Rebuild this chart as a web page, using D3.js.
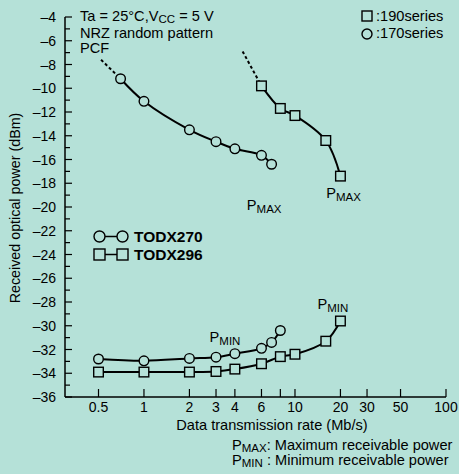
<!DOCTYPE html>
<html>
<head>
<meta charset="utf-8">
<script src="https://cdn.jsdelivr.net/npm/d3@7"></script>
<style>
  body { margin: 0; background: #b5e1d8; }
  svg { display: block; font-family: Arial, "Liberation Sans", sans-serif; }
  .curve { fill: none; stroke: #000; stroke-width: 2; }
  .mark { fill: #b5e1d8; stroke: #000; stroke-width: 1.4; }
</style>
</head>
<body>
<svg></svg>
<script>
  // data
  var xTicks = [0.5, 1, 2, 3, 4, 6, 8, 10, 20, 30, 50, 100];
  var xLabels = ['0.5', '1', '2', '3', '4', '6', '', '10', '20', '30', '50', '100'];
  var yTicks = d3.range(-4, -37, -1);

  var rate270Max = [0.7, 1, 2, 3, 4, 6, 7];
  var pmax270 = [-9.2, -11.1, -13.5, -14.5, -15.1, -15.65, -16.4];
  var rate270Min = [0.5, 1, 2, 3, 4, 6, 7, 8];
  var pmin270 = [-32.8, -32.95, -32.75, -32.65, -32.35, -31.9, -31.4, -30.4];

  var rate296Max = [6, 8, 10, 16, 20];
  var pmax296 = [-9.8, -11.7, -12.3, -14.4, -17.4];
  var rate296Min = [0.5, 1, 2, 3, 4, 6, 8, 10, 16, 20];
  var pmin296 = [-33.9, -33.9, -33.9, -33.85, -33.65, -33.2, -32.6, -32.4, -31.3, -29.6];

  // dotted extrapolation above the first measured point
  var ext270Rate = [0.52, 0.7];
  var ext270P = [-7.6, -9.2];
  var ext296Rate = [4.5, 6];
  var ext296P = [-6.9, -9.8];

  var width = 459;
  var height = 474;
  var fs = 14.6;

  var svg = d3.select('svg')
    .attr('width', width)
    .attr('height', height);

  var x = d3.scaleLog().domain([0.3, 100]).range([65, 446]);
  var y = d3.scaleLinear().domain([-4, -36]).range([17, 397]);

  var zip = function (xs, ys) {
    return xs.map(function (v, i) { return [v, ys[i]]; });
  };

  // axes
  var yAxis = svg.append('g').attr('transform', 'translate(65,0)');
  yAxis.append('line').attr('x1', 0).attr('x2', 0).attr('y1', y(-4)).attr('y2', y(-36))
    .attr('stroke', '#000').attr('stroke-width', 1.5);
  yAxis.selectAll('.tk').data(yTicks).enter().append('line')
    .attr('x1', 0)
    .attr('x2', function (d) { return d % 2 === 0 ? 7 : 5; })
    .attr('y1', function (d) { return y(d); })
    .attr('y2', function (d) { return y(d); })
    .attr('stroke', '#000').attr('stroke-width', 1.2);
  yAxis.selectAll('text').data(yTicks.filter(function (d) { return d % 2 === 0; }))
    .enter().append('text')
    .attr('x', -9)
    .attr('y', function (d) { return y(d) + 5; })
    .attr('text-anchor', 'end')
    .attr('font-size', 14)
    .text(function (d) { return '\u2013' + Math.abs(d); });

  var xAxis = svg.append('g').attr('transform', 'translate(0,' + y(-36) + ')');
  xAxis.append('line').attr('x1', 65).attr('x2', 446).attr('y1', 0).attr('y2', 0)
    .attr('stroke', '#000').attr('stroke-width', 1.5);
  xAxis.selectAll('.tk').data(xTicks).enter().append('line')
    .attr('x1', function (d) { return x(d); })
    .attr('x2', function (d) { return x(d); })
    .attr('y1', 0).attr('y2', -8)
    .attr('stroke', '#000').attr('stroke-width', 1.2);
  xAxis.selectAll('text').data(xTicks).enter().append('text')
    .attr('x', function (d) { return x(d); })
    .attr('y', 15)
    .attr('text-anchor', 'middle')
    .attr('font-size', 14)
    .text(function (d, i) { return xLabels[i]; });

  svg.append('text')
    .attr('x', 272).attr('y', 430)
    .attr('text-anchor', 'middle').attr('font-size', fs)
    .text('Data transmission rate (Mb/s)');
  svg.append('text')
    .attr('transform', 'translate(20,208) rotate(-90)')
    .attr('text-anchor', 'middle').attr('font-size', 14.3)
    .text('Received optical power (dBm)');

  // curves
  var line = d3.line()
    .x(function (d) { return x(d[0]); })
    .y(function (d) { return y(d[1]); })
    .curve(d3.curveCatmullRom.alpha(0.5));

  var series = [
    { pts: zip(rate270Max, pmax270), shape: 'circle' },
    { pts: zip(rate270Min, pmin270), shape: 'circle' },
    { pts: zip(rate296Max, pmax296), shape: 'square' },
    { pts: zip(rate296Min, pmin296), shape: 'square' }
  ];

  svg.selectAll('.ext')
    .data([zip(ext270Rate, ext270P), zip(ext296Rate, ext296P)])
    .enter().append('path')
    .attr('class', 'curve')
    .attr('stroke-dasharray', '3,2.5')
    .attr('d', line);

  svg.selectAll('.series')
    .data(series)
    .enter().append('path')
    .attr('class', 'curve')
    .attr('d', function (d) { return line(d.pts); });

  series.forEach(function (s) {
    var g = svg.append('g');
    if (s.shape === 'circle') {
      g.selectAll('circle').data(s.pts).enter().append('circle')
        .attr('class', 'mark')
        .attr('cx', function (d) { return x(d[0]); })
        .attr('cy', function (d) { return y(d[1]); })
        .attr('r', 4.8);
    } else {
      g.selectAll('rect').data(s.pts).enter().append('rect')
        .attr('class', 'mark')
        .attr('x', function (d) { return x(d[0]) - 4.8; })
        .attr('y', function (d) { return y(d[1]) - 4.8; })
        .attr('width', 9.6)
        .attr('height', 9.6);
    }
  });

  // P labels with subscript
  var pLabel = function (px, py, sub) {
    var t = svg.append('text').attr('x', px).attr('y', py).attr('font-size', fs);
    t.append('tspan').text('P');
    t.append('tspan').attr('font-size', 11.5).attr('dy', 3).text(sub);
    return t;
  };
  pLabel(x(4.8), y(-20.25), 'MAX');
  pLabel(x(16.1), y(-19.2), 'MAX');
  pLabel(x(2.72), y(-31.35), 'MIN');
  pLabel(x(14.1), y(-28.6), 'MIN');

  // conditions
  var cond = svg.append('text').attr('x', 80).attr('y', 21).attr('font-size', fs);
  cond.append('tspan').text('Ta = 25\u00b0C,V');
  cond.append('tspan').attr('font-size', 11.5).attr('dy', 2).text('CC');
  cond.append('tspan').attr('dy', -2).text(' = 5 V');
  svg.append('text').attr('x', 80).attr('y', 38).attr('font-size', fs).text('NRZ random pattern');
  svg.append('text').attr('x', 80).attr('y', 53).attr('font-size', fs).text('PCF');

  // legend top right
  svg.append('rect').attr('class', 'mark').attr('x', 362).attr('y', 11).attr('width', 10).attr('height', 10);
  svg.append('text').attr('x', 376).attr('y', 21).attr('font-size', fs).text(':190series');
  svg.append('circle').attr('class', 'mark').attr('cx', 367).attr('cy', 34).attr('r', 5);
  svg.append('text').attr('x', 376).attr('y', 38).attr('font-size', fs).text(':170series');

  // legend TODX
  var leg = [
    { name: 'TODX270', shape: 'circle', cy: 236.5 },
    { name: 'TODX296', shape: 'square', cy: 254.5 }
  ];
  leg.forEach(function (l) {
    svg.append('line').attr('x1', 100).attr('x2', 122).attr('y1', l.cy).attr('y2', l.cy)
      .attr('stroke', '#000').attr('stroke-width', 1.5);
    [99.5, 122.5].forEach(function (cx) {
      if (l.shape === 'circle') {
        svg.append('circle').attr('class', 'mark').attr('cx', cx).attr('cy', l.cy).attr('r', 5.5);
      } else {
        svg.append('rect').attr('class', 'mark')
          .attr('x', cx - 5.5).attr('y', l.cy - 5.5).attr('width', 11).attr('height', 11);
      }
    });
    svg.append('text').attr('x', 134).attr('y', l.cy + 5.5)
      .attr('font-size', 15.5).attr('font-weight', 'bold').text(l.name);
  });

  // notes
  var n1 = svg.append('text').attr('x', 232).attr('y', 450).attr('font-size', fs);
  n1.append('tspan').text('P');
  n1.append('tspan').attr('font-size', 11.5).attr('dy', 2).text('MAX');
  n1.append('tspan').attr('dy', -2).text(': Maximum receivable power');
  var n2 = svg.append('text').attr('x', 232).attr('y', 465).attr('font-size', fs);
  n2.append('tspan').text('P');
  n2.append('tspan').attr('font-size', 11.5).attr('dy', 2).text('MIN');
  n2.append('tspan').attr('dy', -2).text(' : Minimum receivable power');
</script>
</body>
</html>
